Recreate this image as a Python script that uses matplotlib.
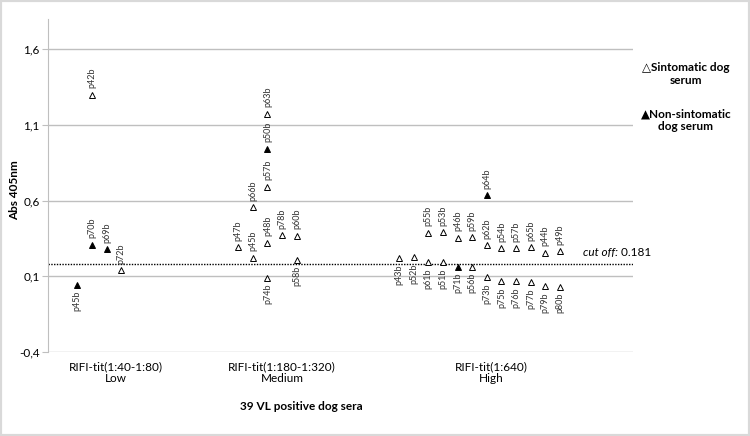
import matplotlib
matplotlib.use('Agg')
import matplotlib.pyplot as plt
from matplotlib.patches import Rectangle

plt.rcParams['font.family'] = ['Lato', 'DejaVu Sans']

# Sueros (nombre, posición, absorbancia)
names = ['p45b', 'p70b', 'p42b', 'p69b', 'p72b',
         'p47b', 'p66b', 'p45b', 'p63b', 'p50b', 'p57b', 'p48b', 'p74b', 'p78b', 'p60b', 'p58b',
         'p43b', 'p52b', 'p55b', 'p61b', 'p53b', 'p51b', 'p46b', 'p71b', 'p59b', 'p56b',
         'p64b', 'p62b', 'p73b', 'p54b', 'p75b', 'p57b', 'p76b', 'p65b', 'p77b', 'p44b', 'p79b',
         'p49b', 'p80b']
xpos = [2, 3, 3, 4, 5,
        13, 14, 14, 15, 15, 15, 15, 15, 16, 17, 17,
        24, 25, 26, 26, 27, 27, 28, 28, 29, 29,
        30, 30, 30, 31, 31, 32, 32, 33, 33, 34, 34,
        35, 35]
abs405 = [0.045, 0.31, 1.30, 0.28, 0.14,
          0.295, 0.555, 0.223, 1.175, 0.943, 0.693, 0.323, 0.091, 0.373, 0.369, 0.208,
          0.219, 0.226, 0.389, 0.195, 0.393, 0.193, 0.356, 0.164, 0.358, 0.164,
          0.634, 0.307, 0.097, 0.285, 0.069, 0.285, 0.069, 0.292, 0.060, 0.256, 0.036,
          0.268, 0.031]
# 1 = no sintomático (triángulo relleno)
non_sint = [1, 1, 0, 1, 0,
            0, 0, 0, 0, 1, 0, 0, 0, 0, 0, 0,
            0, 0, 0, 0, 0, 0, 0, 1, 0, 0,
            1, 0, 0, 0, 0, 0, 0, 0, 0, 0, 0,
            0, 0]
# 1 = etiqueta debajo del punto
label_below = [1, 0, 0, 0, 0,
               0, 0, 0, 0, 0, 0, 0, 1, 0, 0, 1,
               1, 1, 0, 1, 0, 1, 0, 1, 0, 1,
               0, 0, 1, 0, 1, 0, 1, 0, 1, 0, 1,
               0, 1]

groups = ['RIFI-tit(1:40-1:80)\nLow', 'RIFI-tit(1:180-1:320)\nMedium', 'RIFI-tit(1:640)\nHigh']
group_x = [4.65, 16.0, 30.3]
yticks = [-0.4, 0.1, 0.6, 1.1, 1.6]
cutoff = 0.181

fig = plt.figure(figsize=(7.5, 4.36), dpi=100)
ax = fig.add_axes([0.064, 0.1927, 0.78, 0.7637])
ax.set_xlim(0, 40)
ax.set_ylim(-0.4, 1.8)

for y in yticks:
    ax.axhline(y, color='#bfbfbf', lw=1, zorder=1)
ax.axhline(cutoff, color='black', lw=1, linestyle=(0, (1, 1)), zorder=2)

for n, x, y, f, b in zip(names, xpos, abs405, non_sint, label_below):
    ax.plot(x, y, marker='^', ms=4.8, mfc='black' if f else 'white',
            mec='black', mew=0.7, linestyle='none', zorder=3)
    ax.annotate(n, (x, y), xytext=(0, -4.5 if b else 4.5), textcoords='offset points',
                rotation=90, ha='center', va='top' if b else 'bottom',
                fontsize=6.5, color='#333333')

ax.set_yticks(yticks)
ax.set_yticklabels([f'{v:.1f}'.replace('.', ',') for v in yticks], fontsize=8.5)
ax.tick_params(axis='y', length=4, color='#bfbfbf', pad=2)
ax.set_xticks([])
for s in ['top', 'right', 'bottom']:
    ax.spines[s].set_visible(False)
ax.spines['left'].set_color('#bfbfbf')

for g, gx in zip(groups, group_x):
    ax.text(gx, -0.063, g, transform=ax.get_xaxis_transform(), ha='center', va='center',
            fontsize=8.5, linespacing=1.1)

t1 = ax.text(36.6, 0.254, 'cut off:', fontsize=8.5, style='italic', va='center', ha='left')
ax.annotate(' 0.181', xy=(1, 0.5), xycoords=t1, va='center', ha='left', fontsize=8.5)

fig.text(15 / 750, 1 - 190 / 436, 'Abs 405nm', rotation=90, ha='center', va='center',
         fontsize=8.5, fontweight='bold')
fig.text(301 / 750, 1 - 406 / 436, '39 VL positive dog sera', ha='center', va='center',
         fontsize=8.5, fontweight='bold')
fig.text(686 / 750, 1 - 74 / 436, '△Sintomatic dog\nserum', ha='center', va='center',
         fontsize=8.5, fontweight='bold', linespacing=1.2)
fig.text(686 / 750, 1 - 120 / 436, '▲Non-sintomatic\ndog serum', ha='center', va='center',
         fontsize=8.5, fontweight='bold', linespacing=1.2)

fig.patches.append(Rectangle((0, 0), 1, 1, transform=fig.transFigure, fill=False,
                             edgecolor='#d9d9d9', lw=3))

fig.savefig('out.png', dpi=100)
